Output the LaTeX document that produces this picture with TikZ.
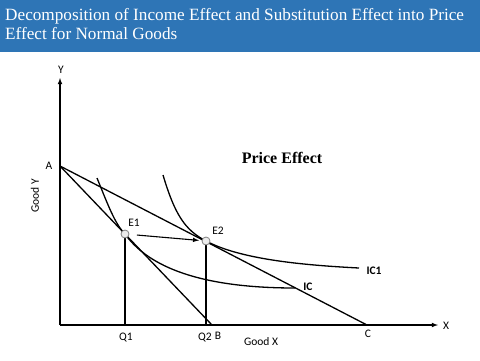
\documentclass[tikz,border=0pt]{standalone}
\usepackage{fontspec}
\setmainfont{Liberation Serif}
\newfontfamily\labelfont{Carlito}
\usetikzlibrary{arrows}
\definecolor{headblue}{RGB}{46,117,182}
\begin{document}
\begin{tikzpicture}[x=1pt,y=-1pt,
  curve/.style={line width=1.3pt},
  point/.style={circle,draw=gray,fill=gray!15,line width=0.8pt,inner sep=0pt,minimum size=8pt},
  lbl/.style={font=\labelfont\fontsize{11.5}{13}\selectfont},
  boldlbl/.style={font=\labelfont\bfseries\fontsize{11.5}{13}\selectfont}]

\useasboundingbox (0,0) rectangle (480,360);

% header
\fill[headblue] (0,0) rectangle (480,52);
\node[anchor=north west,align=left,text=white,inner sep=0pt,
  font=\fontsize{17.2}{19.5}\selectfont] (title) at (5,8)
{Decomposition of Income Effect and Substitution Effect into Price\\Effect for Normal Goods};

% axes
\coordinate (O) at (60,325);
\coordinate (Ytop) at (60,78);
\coordinate (Xend) at (438,325);
\draw[-latex,line width=1.1pt]
(O)
--
(Ytop);
\draw[-latex,line width=1.1pt]
(O)
--
(Xend);

\node[lbl] (ylab) at (61,70)
{Y};
\node[lbl] (xlab) at (446,326)
{X};
\node[lbl,rotate=90] (goody) at (35,196)
{Good Y};
\node[lbl] (goodx) at (261,342)
{Good X};

% budget lines
\coordinate (A) at (60,166);
\coordinate (B) at (212,325);
\coordinate (C) at (367,325);
\draw[curve] (A) -- (B);
\draw[curve] (A) -- (C);

\node[lbl] (alab) at (49,166)
{A};
\node[lbl] (blab) at (218,336)
{B};
\node[lbl] (clab) at (368,334)
{C};

% indifference curves
\coordinate (E1) at (125,234);
\coordinate (E2) at (206,241);
\draw[curve] (97,178) .. controls (108,205) and (115,224) .. (E1)
  .. controls (145,262) and (190,288) .. (295,288);
\draw[curve] (163,175) .. controls (175,215) and (185,230) .. (E2)
  .. controls (240,259) and (300,265) .. (359,268);

\node[boldlbl] (iclab) at (308,287)
{IC};
\node[boldlbl] (ic1lab) at (374,271)
{IC1};

% equilibrium points
\coordinate (Q1) at (125,325);
\coordinate (Q2) at (206,325);
\draw[curve] (E1) -- (Q1);
\draw[curve] (E2) -- (Q2);

\node[point] (e1) at (E1) {};
\node[point] (e2) at (E2) {};

\draw[-latex,line width=1.1pt,shorten <=12pt,shorten >=7pt]
(e1.center)
--
(e2.center);

\node[lbl] (e1lab) at (134,223)
{E1};
\node[lbl] (e2lab) at (218,231)
{E2};
\node[lbl] (q1lab) at (126,338)
{Q1};
\node[lbl] (q2lab) at (205,338)
{Q2};

\node[font=\bfseries\fontsize{16}{18}\selectfont] (pe) at (282,158)
{Price Effect};

\end{tikzpicture}
\end{document}
